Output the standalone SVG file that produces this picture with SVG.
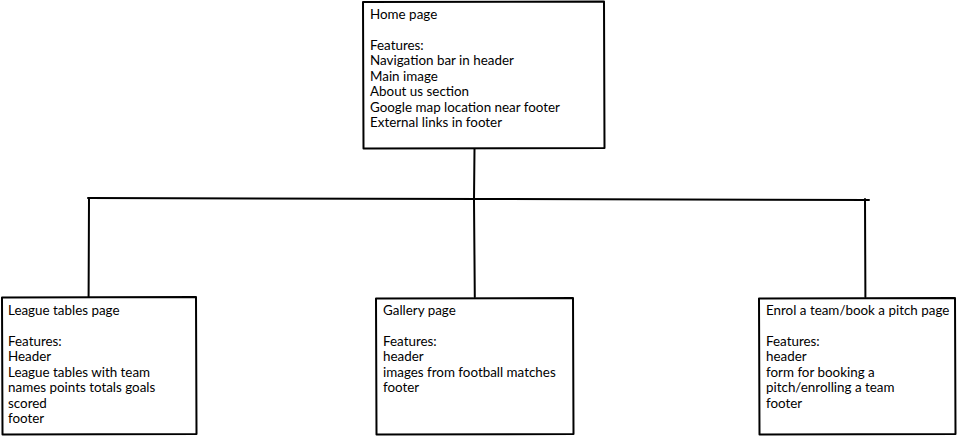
<svg xmlns="http://www.w3.org/2000/svg" width="958" height="437" viewBox="0 0 958 437">
<style>
.box{fill:#fff;stroke:#000;stroke-width:2;stroke-linejoin:round;stroke-linecap:round}
.ln{fill:none;stroke:#000;stroke-width:2;stroke-linecap:round}
.t{font-family:Lato,"Noto Sans","Liberation Sans",sans-serif;font-size:13.4px;fill:#000}
</style>
<rect width="958" height="437" fill="#fff"/>
<g id="connectors">
<path class="ln" d="M474.5,149 L474,200 L474.8,297"/>
<path class="ln" d="M88,198 L480,199 L869,200"/>
<path class="ln" d="M89,198 L88.6,297"/>
<path class="ln" d="M865,199 L865.4,297"/>
</g>
<g id="home">
<path class="box" d="M363,2 L604,1.5 L604.5,148 L363.5,148.5 Z"/>
<text class="t" x="370" y="19">Home page</text>
<text class="t" x="370" y="50">Features:</text>
<text class="t" x="370" y="65">Navigation bar in header</text>
<text class="t" x="370" y="81">Main image</text>
<text class="t" x="370" y="96">About us section</text>
<text class="t" x="370" y="112">Google map location near footer</text>
<text class="t" x="370" y="127">External links in footer</text>
</g>
<g id="league">
<path class="box" d="M2,297.5 L196,297 L196.5,434 L2.5,434.5 Z"/>
<text class="t" x="8" y="315">League tables page</text>
<text class="t" x="8" y="346">Features:</text>
<text class="t" x="8" y="361">Header</text>
<text class="t" x="8" y="377">League tables with team</text>
<text class="t" x="8" y="392">names points totals goals</text>
<text class="t" x="8" y="408">scored</text>
<text class="t" x="8" y="423">footer</text>
</g>
<g id="gallery">
<path class="box" d="M376,298.5 L573,298 L573.5,434 L376.5,434.5 Z"/>
<text class="t" x="383" y="315">Gallery page</text>
<text class="t" x="383" y="346">Features:</text>
<text class="t" x="383" y="361">header</text>
<text class="t" x="383" y="377">images from football matches</text>
<text class="t" x="383" y="392">footer</text>
</g>
<g id="enrol">
<path class="box" d="M759,298.5 L955,298 L955.5,434 L759.5,434.5 Z"/>
<text class="t" x="766" y="315">Enrol a team/book a pitch page</text>
<text class="t" x="766" y="346">Features:</text>
<text class="t" x="766" y="361">header</text>
<text class="t" x="766" y="377">form for booking a</text>
<text class="t" x="766" y="392">pitch/enrolling a team</text>
<text class="t" x="766" y="408">footer</text>
</g>
</svg>
